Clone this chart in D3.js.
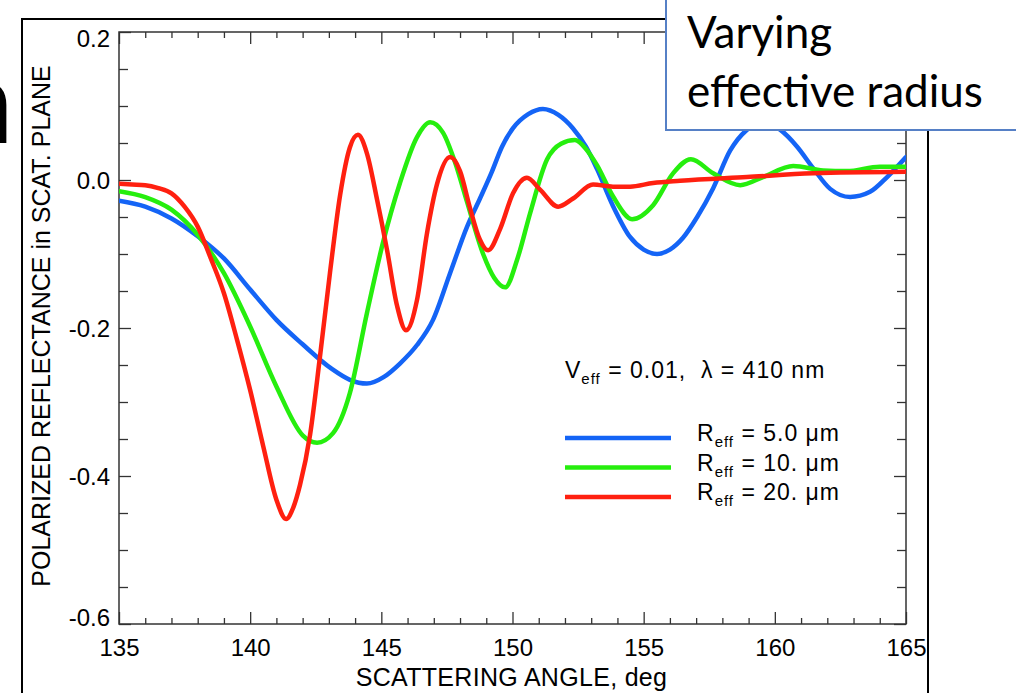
<!DOCTYPE html>
<html>
<head>
<meta charset="utf-8">
<script src="https://cdn.jsdelivr.net/npm/d3@7"></script>
<style>
  html, body { margin: 0; padding: 0; background: #fff; }
  svg { display: block; }
</style>
</head>
<body>
<svg id="chart" width="1016" height="693"></svg>
<script>
// Axis ticks
const angleTicks = [135, 140, 145, 150, 155, 160, 165];
const valueTicks = [-0.6, -0.4, -0.2, 0.0, 0.2];

// R_eff = 5.0 um
const blueAngle = [135, 136, 137, 138, 139, 140, 141, 142, 143.1, 143.8, 144.45, 145.1, 145.71, 146.36, 146.97, 147.62, 148.27, 148.76, 149.2, 149.6, 150.02, 150.6, 151.16, 151.75, 152.3, 152.8, 153.22, 153.83, 154.48, 155.0, 155.51, 156.0, 156.5, 157.04, 157.65, 158.3, 158.94, 159.55, 160.2, 160.85, 161.46, 162.11, 162.87, 163.63, 164.28, 165];
const blueValue = [-0.028, -0.036, -0.052, -0.076, -0.106, -0.148, -0.189, -0.222, -0.255, -0.270, -0.275, -0.266, -0.248, -0.223, -0.189, -0.126, -0.063, -0.025, 0.010, 0.045, 0.070, 0.089, 0.096, 0.088, 0.070, 0.045, 0.015, -0.035, -0.077, -0.094, -0.100, -0.094, -0.078, -0.050, -0.011, 0.040, 0.068, 0.079, 0.068, 0.045, 0.016, -0.012, -0.023, -0.016, 0.004, 0.031];

// R_eff = 10. um
const greenAngle = [135, 136, 137, 138, 139, 140, 141, 142, 142.55, 143.16, 143.8, 144.45, 145.06, 145.71, 146.36, 146.86, 147.35, 147.8, 148.27, 148.88, 149.3, 149.72, 150.2, 150.67, 151.32, 151.85, 152.38, 152.8, 153.22, 153.83, 154.56, 155.36, 156.12, 156.8, 157.65, 158.68, 159.55, 160.7, 161.84, 162.75, 164.0, 165];
const greenValue = [-0.015, -0.023, -0.040, -0.074, -0.126, -0.198, -0.279, -0.345, -0.355, -0.342, -0.288, -0.180, -0.085, -0.004, 0.058, 0.078, 0.064, 0.025, -0.030, -0.100, -0.132, -0.145, -0.105, -0.045, 0.028, 0.049, 0.054, 0.042, 0.020, -0.022, -0.053, -0.034, 0.009, 0.028, 0.009, -0.007, 0.004, 0.019, 0.013, 0.012, 0.018, 0.018];

// R_eff = 20. um
const redAngle = [135, 135.5, 136, 136.5, 137, 137.5, 138, 138.5, 139, 139.5, 140, 140.5, 141, 141.37, 141.65, 141.9, 142.28, 142.66, 143.04, 143.43, 143.8, 144.11, 144.45, 144.84, 145.22, 145.6, 145.94, 146.36, 146.74, 147.12, 147.62, 148.0, 148.38, 148.75, 149.07, 149.53, 150.02, 150.55, 151.05, 151.74, 152.31, 153.07, 153.83, 154.48, 155.36, 156.39, 158.94, 161.46, 165];
const redValue = [-0.005, -0.006, -0.007, -0.011, -0.018, -0.036, -0.063, -0.106, -0.153, -0.216, -0.284, -0.360, -0.432, -0.458, -0.442, -0.412, -0.345, -0.239, -0.126, -0.020, 0.044, 0.061, 0.036, -0.027, -0.095, -0.170, -0.203, -0.162, -0.072, -0.006, 0.031, 0.012, -0.038, -0.080, -0.095, -0.066, -0.018, 0.003, -0.013, -0.036, -0.025, -0.006, -0.009, -0.009, -0.004, -0.001, 0.004, 0.009, 0.011];

const radiusLabels = ["5.0", "10.", "20."];
const seriesColors = ["#1464f6", "#26ee0e", "#ff2010"];

const svg = d3.select("#chart");
const W = 1016, H = 693;
const plot = { left: 119, right: 906, top: 32, bottom: 624 };
const labelFont = "'Liberation Sans', Arial, Helvetica, sans-serif";

const x = d3.scaleLinear().domain([135, 165]).range([plot.left, plot.right]);
const y = d3.scaleLinear().domain([-0.6, 0.2]).range([plot.bottom, plot.top]);

// slide frame around the figure
svg.append("path")
  .attr("d", `M22,${H + 5}V19H928V${H + 5}`)
  .attr("fill", "none").attr("stroke", "#000").attr("stroke-width", 2);

// large glyph from the slide title at the left edge
svg.append("text")
  .attr("x", 14).attr("y", 143)
  .attr("text-anchor", "end")
  .attr("font-family", "Lato, 'Open Sans', sans-serif")
  .attr("font-size", 118)
  .attr("fill", "#000")
  .text("n");

// minor ticks
const minorAngle = d3.range(136, 165, 1).filter(v => v % 5 !== 0);
const minorValue = d3.range(-0.55, 0.2, 0.05).map(v => +v.toFixed(2)).filter(v => Math.abs(Math.round(v * 100) % 20) !== 0);

function styleAxis(g) {
  g.select(".domain").remove();
  g.selectAll(".tick line").attr("stroke", "#333").attr("stroke-width", 1.3);
  g.selectAll(".tick text")
    .attr("font-family", labelFont)
    .attr("font-size", 24)
    .attr("fill", "#000");
}

// bottom axis
svg.append("g").attr("transform", `translate(0,${plot.bottom})`)
  .call(d3.axisBottom(x).tickValues(angleTicks).tickSizeInner(-12).tickSizeOuter(0).tickPadding(15).tickFormat(d3.format("d")))
  .call(styleAxis);
svg.append("g").attr("transform", `translate(0,${plot.bottom})`)
  .call(d3.axisBottom(x).tickValues(minorAngle).tickSizeInner(-6).tickSizeOuter(0).tickFormat(""))
  .call(styleAxis);
// top axis
svg.append("g").attr("transform", `translate(0,${plot.top})`)
  .call(d3.axisTop(x).tickValues(angleTicks).tickSizeInner(-12).tickSizeOuter(0).tickFormat(""))
  .call(styleAxis);
svg.append("g").attr("transform", `translate(0,${plot.top})`)
  .call(d3.axisTop(x).tickValues(minorAngle).tickSizeInner(-6).tickSizeOuter(0).tickFormat(""))
  .call(styleAxis);
// left axis
const leftAxis = svg.append("g").attr("transform", `translate(${plot.left},0)`)
  .call(d3.axisLeft(y).tickValues(valueTicks).tickSizeInner(-12).tickSizeOuter(0).tickPadding(9).tickFormat(d => d.toFixed(1)))
  .call(styleAxis);
leftAxis.selectAll(".tick text")
  .attr("dy", d => d === 0.2 ? "0.6em" : d === -0.6 ? "0.05em" : "0.34em");
svg.append("g").attr("transform", `translate(${plot.left},0)`)
  .call(d3.axisLeft(y).tickValues(minorValue).tickSizeInner(-9).tickSizeOuter(0).tickFormat(""))
  .call(styleAxis);
// right axis
svg.append("g").attr("transform", `translate(${plot.right},0)`)
  .call(d3.axisRight(y).tickValues(valueTicks).tickSizeInner(-12).tickSizeOuter(0).tickFormat(""))
  .call(styleAxis);
svg.append("g").attr("transform", `translate(${plot.right},0)`)
  .call(d3.axisRight(y).tickValues(minorValue).tickSizeInner(-9).tickSizeOuter(0).tickFormat(""))
  .call(styleAxis);

// plot frame
svg.append("rect")
  .attr("x", plot.left).attr("y", plot.top)
  .attr("width", plot.right - plot.left).attr("height", plot.bottom - plot.top)
  .attr("fill", "none").attr("stroke", "#333").attr("stroke-width", 1.5);

// axis titles
svg.append("text")
  .attr("x", (plot.left + plot.right) / 2 - 1).attr("y", 686)
  .attr("text-anchor", "middle")
  .attr("font-family", labelFont).attr("font-size", 25)
  .attr("letter-spacing", 0.3)
  .text("SCATTERING ANGLE, deg");
svg.append("text")
  .attr("transform", "translate(50,326) rotate(-90)")
  .attr("text-anchor", "middle")
  .attr("font-family", labelFont).attr("font-size", 25)
  .text("POLARIZED REFLECTANCE in SCAT. PLANE");

// curves
svg.append("clipPath").attr("id", "plotClip")
  .append("rect").attr("x", plot.left).attr("y", plot.top)
  .attr("width", plot.right - plot.left).attr("height", plot.bottom - plot.top);

const series = [
  { angle: blueAngle, value: blueValue },
  { angle: greenAngle, value: greenValue },
  { angle: redAngle, value: redValue }
];
const line = d3.line()
  .x(d => x(d[0])).y(d => y(d[1]))
  .curve(d3.curveMonotoneX);

svg.append("g").attr("clip-path", "url(#plotClip)")
  .selectAll("path").data(series).join("path")
  .attr("d", s => line(s.angle.map((a, i) => [a, s.value[i]])))
  .attr("fill", "none")
  .attr("stroke", (s, i) => seriesColors[i])
  .attr("stroke-width", 4.5)
  .attr("stroke-linejoin", "round")
  .attr("stroke-linecap", "round");

// legend header
const header = svg.append("text")
  .attr("x", 565).attr("y", 378)
  .attr("font-family", labelFont).attr("font-size", 23)
  .attr("letter-spacing", 1);
header.append("tspan").text("V");
header.append("tspan").attr("font-size", 15).attr("dy", 6).text("eff");
header.append("tspan").attr("dy", -6).text(" = 0.01,\u00a0\u00a0\u03bb = 410 nm");

// legend entries
const legend = svg.append("g");
radiusLabels.forEach((r, i) => {
  const ly = 438 + i * 29.5;
  legend.append("line")
    .attr("x1", 565).attr("x2", 671).attr("y1", ly).attr("y2", ly)
    .attr("stroke", seriesColors[i]).attr("stroke-width", 4.5);
  const t = legend.append("text")
    .attr("x", 697).attr("y", ly + 3)
    .attr("font-family", labelFont).attr("font-size", 23)
    .attr("letter-spacing", 1);
  t.append("tspan").text("R");
  t.append("tspan").attr("font-size", 15).attr("dy", 6).text("eff");
  t.append("tspan").attr("dy", -6).text(` = ${r} \u03bcm`);
});

// callout box
svg.append("rect")
  .attr("x", 666).attr("y", -10).attr("width", 400).attr("height", 140)
  .attr("fill", "#fff").attr("stroke", "#5680c6").attr("stroke-width", 2);
const callout = svg.append("text")
  .attr("font-family", "Lato, 'Open Sans', sans-serif")
  .attr("font-size", 44).attr("fill", "#000");
callout.append("tspan").attr("x", 687).attr("y", 48).text("Varying");
callout.append("tspan").attr("x", 687).attr("y", 107).text("effective radius");
</script>
</body>
</html>
